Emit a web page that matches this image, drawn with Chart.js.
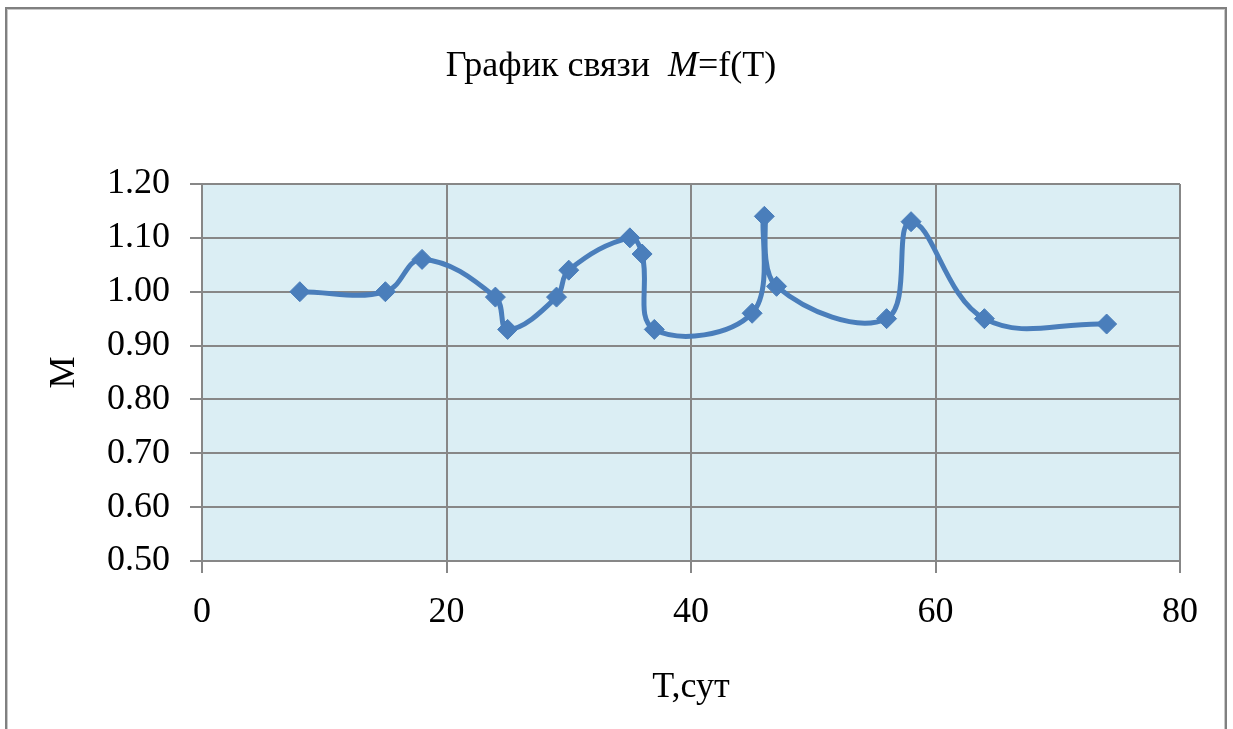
<!DOCTYPE html>
<html>
<head>
<meta charset="utf-8">
<script src="https://cdn.jsdelivr.net/npm/chart.js@4"></script>
<style>
  body { margin: 0; background: #fff; }
  #frame {
    position: absolute; left: 5px; top: 7px; width: 1218px; height: 740px;
    border: 2px solid #808080; border-bottom: none;
    box-shadow: inset 1px 1px 0 #c8c8c8, inset -1px 0 0 #c8c8c8;
  }
  #wrap { position: absolute; left: 0; top: 0; width: 1233px; height: 729px; }
</style>
</head>
<body>
<div id="frame"></div>
<div id="wrap"><canvas id="chart" width="1233" height="729"></canvas></div>
<script>
// T, days
const days = [8, 15, 18, 24, 25, 29, 30, 35, 36, 37, 45, 46, 47, 56, 58, 64, 74]
// M values
const mValues = [1.00, 1.00, 1.06, 0.99, 0.93, 0.99, 1.04, 1.10, 1.07, 0.93, 0.96, 1.14, 1.01, 0.95, 1.13, 0.95, 0.94]

const serif = '"Liberation Serif", "Times New Roman", serif'
const gridGrey = '#878787'
const lineBlue = '#4a7ebb'

const points = days.map((t, i) => ({ x: t, y: mValues[i] }))

// light blue fill behind the plot area
const plotFill = {
  id: 'plotFill',
  beforeDraw(chart) {
    const { ctx, chartArea: a } = chart
    ctx.save()
    ctx.fillStyle = '#dbeef4'
    ctx.fillRect(a.left, a.top, a.right - a.left, a.bottom - a.top)
    ctx.restore()
  }
}

// title with italic M
const mixedTitle = {
  id: 'mixedTitle',
  afterDraw(chart) {
    const ctx = chart.ctx
    const parts = [
      { text: 'График связи  ', font: '36px ' + serif },
      { text: 'M', font: 'italic 36px ' + serif },
      { text: '=f(T)', font: '36px ' + serif }
    ]
    ctx.save()
    ctx.fillStyle = '#000'
    ctx.textBaseline = 'alphabetic'
    let total = 0
    parts.forEach(p => { ctx.font = p.font; p.w = ctx.measureText(p.text).width; total += p.w })
    let x = 611 - total / 2
    parts.forEach(p => { ctx.font = p.font; ctx.fillText(p.text, x, 76); x += p.w })
    ctx.restore()
  }
}

new Chart(document.getElementById('chart'), {
  type: 'scatter',
  data: {
    datasets: [{
      data: points,
      showLine: true,
      borderColor: lineBlue,
      backgroundColor: lineBlue,
      borderWidth: 5,
      tension: 0.4,
      pointStyle: 'rectRot',
      pointRadius: 10,
      pointHoverRadius: 10,
      pointBorderWidth: 1,
      pointBorderColor: lineBlue
    }]
  },
  options: {
    responsive: false,
    animation: false,
    events: [],
    layout: { padding: { top: 184, right: 53, bottom: 0, left: 0 } },
    plugins: { legend: { display: false }, tooltip: { enabled: false } },
    scales: {
      x: {
        type: 'linear',
        min: 0, max: 80,
        afterFit(s) { s.height = 168 },
        ticks: { stepSize: 20, color: '#000', font: { family: serif, size: 36 }, padding: 18, maxRotation: 0 },
        grid: { color: gridGrey, lineWidth: 2, tickLength: 12 },
        border: { color: gridGrey, width: 2 },
        title: { display: true, text: 'T,сут', color: '#000', font: { family: serif, size: 36 }, padding: { top: 0, bottom: 20 } }
      },
      y: {
        min: 0.5, max: 1.2,
        afterFit(s) { s.width = 202 },
        ticks: { stepSize: 0.1, color: '#000', font: { family: serif, size: 36 }, padding: 20, callback: v => v.toFixed(2) },
        grid: { color: gridGrey, lineWidth: 2, tickLength: 12 },
        border: { color: gridGrey, width: 2 },
        title: { display: true, text: 'M', color: '#000', font: { family: serif, size: 36 }, padding: { top: 43, bottom: 0 } }
      }
    }
  },
  plugins: [plotFill, mixedTitle]
})
</script>
</body>
</html>
